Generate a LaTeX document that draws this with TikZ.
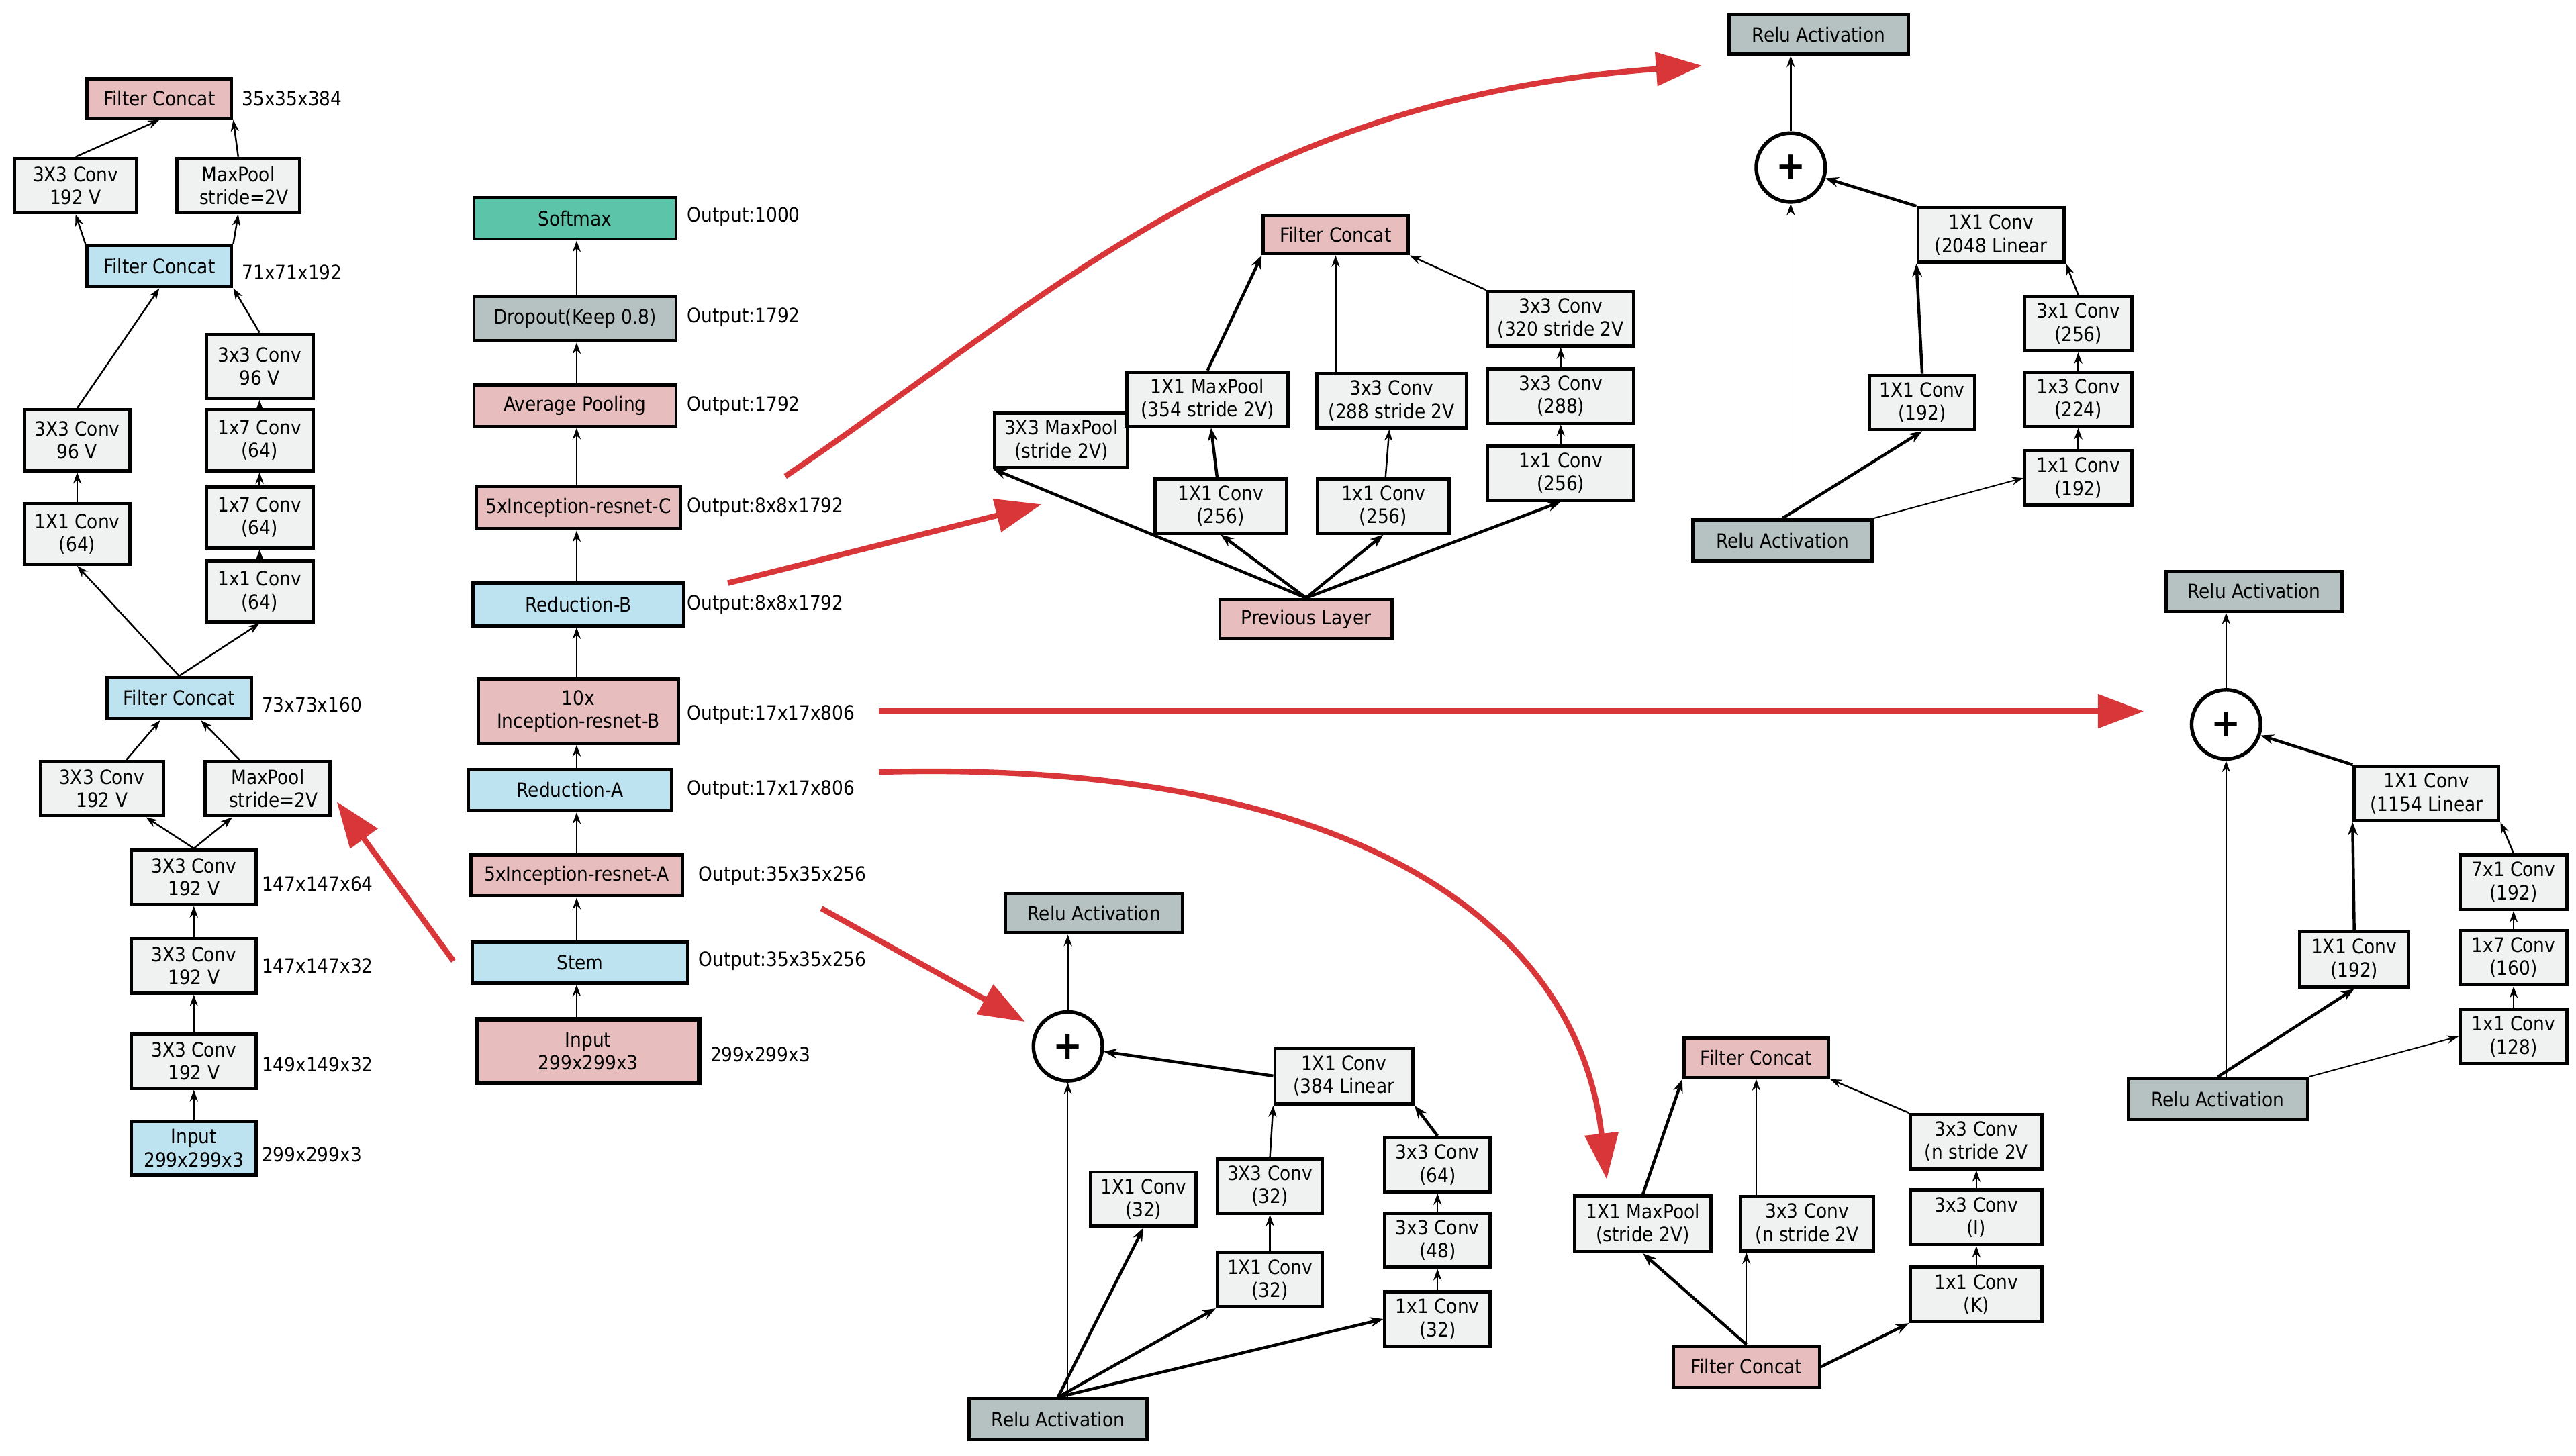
\documentclass[tikz,border=0pt]{standalone}
\usepackage{fontspec}
\setmainfont{DejaVu Sans Condensed}
\usetikzlibrary{arrows.meta}
\definecolor{pk}{HTML}{E8BDBD}
\definecolor{bl}{HTML}{BEE3F0}
\definecolor{lg}{HTML}{F0F1F1}
\definecolor{dg}{HTML}{B6C1C1}
\definecolor{tl}{HTML}{5CC4A8}
\definecolor{rd}{HTML}{D9363A}
\newcommand\bx[7]{\node[box,fill=#6,minimum width=#4*0.5pt,minimum height=#5*0.5pt] (#1) at (#2,#3) {#7};}
\begin{document}
\begin{tikzpicture}[x=0.5pt,y=-0.5pt,
 box/.style={draw=black,line width=1pt,inner sep=0.5pt,align=center,font=\fontsize{6}{7}\selectfont},
 lab/.style={anchor=west,inner sep=0pt,font=\fontsize{6}{7}\selectfont},
 ar/.style={-{Stealth[length=3.5pt,width=2.5pt]},line width=0.5pt},
 thk/.style={-{Stealth[length=4pt,width=3pt]},line width=0.9pt},
 red/.style={draw=rd,line width=1.7pt,-{Triangle[length=14pt,width=10pt]}},
 plus/.style={draw=black,circle,line width=1.1pt,minimum size=21pt,inner sep=0pt,font=\large\bfseries}]
\useasboundingbox (0,0) rectangle (1568,886);
% ---- left stem
\bx{s1}{97}{60}{88}{24}{pk}{Filter Concat}
\node[lab] at (147,60) {35x35x384};
\bx{s2}{46}{113}{74}{33}{lg}{3X3 Conv\\192 V}
\bx{s3}{145}{113}{75}{33}{lg}{MaxPool\\\ \ stride=2V}
\bx{s4}{97}{162}{88}{25}{bl}{Filter Concat}
\node[lab] at (147,166) {71x71x192};
\bx{s5}{158}{223}{65}{39}{lg}{3x3 Conv\\96 V}
\bx{s6}{47}{268}{64}{37}{lg}{3X3 Conv\\96 V}
\bx{s7}{158}{268}{65}{37}{lg}{1x7 Conv\\(64)}
\bx{s8}{158}{315}{65}{37}{lg}{1x7 Conv\\(64)}
\bx{s9}{47}{325}{64}{37}{lg}{1X1 Conv\\(64)}
\bx{s10}{158}{360}{65}{37}{lg}{1x1 Conv\\(64)}
\bx{s11}{109}{425}{88}{25}{bl}{Filter Concat}
\node[lab] at (159,429) {73x73x160};
\bx{s12}{62}{480}{75}{33}{lg}{3X3 Conv\\192 V}
\bx{s13}{163}{480}{76}{33}{lg}{MaxPool\\\ \ stride=2V}
\bx{s14}{118}{534}{76}{33}{lg}{3X3 Conv\\192 V}
\node[lab] at (159,538) {147x147x64};
\bx{s15}{118}{588}{76}{33}{lg}{3X3 Conv\\192 V}
\node[lab] at (159,588) {147x147x32};
\bx{s16}{118}{646}{76}{33}{lg}{3X3 Conv\\192 V}
\node[lab] at (159,648) {149x149x32};
\bx{s17}{118}{699}{76}{33}{bl}{Input\\299x299x3}
\node[lab] at (159,703) {299x299x3};
\draw[ar] (s17)--(s16); \draw[ar] (s16)--(s15); \draw[ar] (s15)--(s14);
\draw[ar] (s14.north)--(s12); \draw[ar] (s14.north)--(s13);
\draw[ar] (s12)--(s11); \draw[ar] (s13)--(s11);
\draw[ar] (s11.north)--(s9.south); \draw[ar] (s11.north)--(s10.south);
\draw[ar] (s9)--(s6); \draw[ar] (s10)--(s8); \draw[ar] (s8)--(s7); \draw[ar] (s7)--(s5);
\draw[ar] (s6.north)--(s4.south); \draw[ar] (s5.north)--(s4.south east);
\draw[ar] (s4.north west)--(s2.south); \draw[ar] (s4.north east)--(s3.south);
\draw[ar] (s2.north)--(s1.south); \draw[ar] (s3.north)--(s1.south east);
% ---- middle column
\bx{m1}{350}{133}{123}{25}{tl}{Softmax}
\node[lab] at (418,132) {Output:1000};
\bx{m2}{350}{194}{123}{27}{dg}{Dropout(Keep 0.8)}
\node[lab] at (418,193) {Output:1792};
\bx{m3}{350}{247}{123}{25}{pk}{Average Pooling}
\node[lab] at (418,247) {Output:1792};
\bx{m4}{352}{309}{124}{26}{pk}{5xInception-resnet-C}
\node[lab] at (418,309) {Output:8x8x1792};
\bx{m5}{352}{368}{128}{26}{bl}{Reduction-B}
\node[lab] at (418,368) {Output:8x8x1792};
\bx{m6}{352}{433}{122}{39}{pk}{10x\\Inception-resnet-B}
\node[lab] at (418,435) {Output:17x17x806};
\bx{m7}{347}{481}{124}{25}{bl}{Reduction-A}
\node[lab] at (418,481) {Output:17x17x806};
\bx{m8}{351}{533}{129}{25}{pk}{5xInception-resnet-A}
\node[lab] at (425,533) {Output:35x35x256};
\bx{m9}{353}{586}{131}{25}{bl}{Stem}
\node[lab] at (425,585) {Output:35x35x256};
\node[box,fill=pk,line width=1.4pt,minimum width=67.5pt,minimum height=19.5pt] (m10) at (358,640) {Input\\299x299x3};
\node[lab] at (432,642) {299x299x3};
\coordinate (mx) at (351,0);
\foreach \a/\b in {m10/m9,m9/m8,m8/m7,m7/m6,m6/m5,m5/m4,m4/m3,m3/m2,m2/m1} \draw[ar] (\a.north-|mx)--(\b.south-|mx);
% ---- red arrows
\coordinate (r1a) at (276,585); \coordinate (r1b) at (205,488);
\draw[red] (r1a)--(r1b);
\coordinate (r2a) at (443,355); \coordinate (r2b) at (634,307);
\draw[red] (r2a)--(r2b);
\coordinate (r3a) at (478,290); \coordinate (r3b) at (1036,40);
\draw[red] (r3a) .. controls (640,180) and (760,60) .. (r3b);
\coordinate (r4a) at (535,433); \coordinate (r4b) at (1305,433);
\draw[red] (r4a)--(r4b);
\coordinate (r5a) at (535,470); \coordinate (r5b) at (978,718);
\draw[red] (r5a) .. controls (820,462) and (960,560) .. (r5b);
\coordinate (r6a) at (500,553); \coordinate (r6b) at (624,622);
\draw[red] (r6a)--(r6b);
% ---- block top middle
\bx{c1}{813}{143}{88}{23}{pk}{Filter Concat}
\bx{c2}{646}{268}{81}{33}{lg}{3X3 MaxPool\\(stride 2V)}
\bx{c3}{735}{243}{98}{33}{lg}{1X1 MaxPool\\(354 stride 2V)}
\bx{c4}{743}{308}{80}{33}{lg}{1X1 Conv\\(256)}
\bx{c5}{847}{244}{91}{33}{lg}{3x3 Conv\\(288 stride 2V}
\bx{c6}{842}{308}{80}{33}{lg}{1x1 Conv\\(256)}
\bx{c7}{950}{194}{89}{33}{lg}{3x3 Conv\\(320 stride 2V}
\bx{c8}{950}{241}{89}{33}{lg}{3x3 Conv\\(288)}
\bx{c9}{950}{288}{89}{33}{lg}{1x1 Conv\\(256)}
\bx{c10}{795}{377}{105}{24}{pk}{Previous Layer}
\draw[thk] (c10.north)--(c2.south west);
\draw[thk] (c10.north)--(c4.south);
\draw[thk] (c10.north)--(c6.south);
\draw[thk] (c10.north)--(c9.south);
\draw[thk] (c4)--(c3); \draw[thk] (c3.north)--(c1.south west);
\draw[ar] (c6)--(c5); \draw[ar] (c5.north west-|c1.south)--(c1.south);
\draw[ar] (c9)--(c8); \draw[ar] (c8)--(c7); \draw[ar] (c7.north west)--(c1.south east);
% ---- block top right
\bx{t1}{1107}{21}{109}{24}{dg}{Relu Activation}
\node[plus] (t2) at (1090,102) {+};
\bx{t3}{1212}{143}{89}{33}{lg}{1X1 Conv\\(2048 Linear}
\bx{t4}{1265}{197}{65}{33}{lg}{3x1 Conv\\(256)}
\bx{t5}{1265}{243}{65}{33}{lg}{1x3 Conv\\(224)}
\bx{t6}{1265}{291}{65}{33}{lg}{1x1 Conv\\(192)}
\bx{t7}{1170}{245}{64}{33}{lg}{1X1 Conv\\(192)}
\bx{t8}{1085}{329}{109}{25}{dg}{Relu Activation}
\draw[ar,line width=0.3pt] (t8.north-|t2)--(t2);
\draw[thk] (t8.north)--(t7.south);
\draw[ar,line width=0.4pt] (t8.north east)--(t6.west);
\draw[ar] (t6)--(t5); \draw[ar] (t5)--(t4); \draw[ar] (t4.north)--(t3.south east);
\draw[thk] (t7.north)--(t3.south west);
\draw[thk] (t3.north west)--(t2);
\draw[ar] (t2)--(t1.south-|t2);
% ---- block right
\bx{b1}{1372}{360}{107}{24}{dg}{Relu Activation}
\node[plus] (b2) at (1355,441) {+};
\bx{b3}{1477}{483}{88}{33}{lg}{1X1 Conv\\(1154 Linear}
\bx{b4}{1530}{537}{65}{33}{lg}{7x1 Conv\\(192)}
\bx{b5}{1530}{583}{65}{33}{lg}{1x7 Conv\\(160)}
\bx{b6}{1530}{631}{65}{33}{lg}{1x1 Conv\\(128)}
\bx{b7}{1433}{584}{66}{34}{lg}{1X1 Conv\\(192)}
\bx{b8}{1350}{669}{109}{25}{dg}{Relu Activation}
\draw[ar,line width=0.3pt] (b8.north-|b2)--(b2);
\draw[thk] (b8.north)--(b7.south);
\draw[ar,line width=0.4pt] (b8.north east)--(b6.west);
\draw[ar] (b6)--(b5); \draw[ar] (b5)--(b4); \draw[ar] (b4.north)--(b3.south east);
\draw[thk] (b7.north)--(b3.south west);
\draw[thk] (b3.north west)--(b2);
\draw[ar] (b2)--(b1.south-|b2);
% ---- block bottom middle
\bx{a1}{666}{556}{108}{24}{dg}{Relu Activation}
\node[plus] (a2) at (650,637) {+};
\bx{a3}{818}{655}{84}{34}{lg}{1X1 Conv\\(384 Linear}
\bx{a4}{875}{709}{64}{33}{lg}{3x3 Conv\\(64)}
\bx{a5}{875}{755}{64}{33}{lg}{3x3 Conv\\(48)}
\bx{a6}{875}{803}{64}{33}{lg}{1x1 Conv\\(32)}
\bx{a7}{773}{722}{64}{33}{lg}{3X3 Conv\\(32)}
\bx{a8}{773}{779}{64}{33}{lg}{1X1 Conv\\(32)}
\bx{a9}{696}{730}{64}{33}{lg}{1X1 Conv\\(32)}
\bx{a10}{644}{864}{108}{25}{dg}{Relu Activation}
\draw[ar,line width=0.3pt] (a10.north-|a2)--(a2);
\draw[thk] (a10.north)--(a9.south);
\draw[thk] (a10.north)--(a8.south west);
\draw[thk] (a10.north)--(a6.west);
\draw[ar] (a6)--(a5); \draw[ar] (a5)--(a4); \draw[thk] (a4.north)--(a3.south east);
\draw[ar] (a8)--(a7); \draw[ar] (a7.north)--(a3.south west);
\draw[thk] (a3.west)--(a2);
\draw[ar] (a2)--(a1.south-|a2);
% ---- block bottom right
\bx{d1}{1069}{644}{88}{24}{pk}{Filter Concat}
\bx{d2}{1000}{745}{83}{34}{lg}{1X1 MaxPool\\(stride 2V)}
\bx{d3}{1100}{745}{81}{33}{lg}{3x3 Conv\\(n stride 2V}
\bx{d4}{1203}{695}{80}{33}{lg}{3x3 Conv\\(n stride 2V}
\bx{d5}{1203}{741}{80}{33}{lg}{3x3 Conv\\(I)}
\bx{d6}{1203}{788}{80}{33}{lg}{1x1 Conv\\(K)}
\bx{d7}{1063}{832}{89}{25}{pk}{Filter Concat}
\draw[thk] (d7.north)--(d2.south);
\draw[ar] (d7.north)--(d3.south west-|d7.north);
\draw[thk] (d7.east)--(d6.south west);
\draw[thk] (d2.north)--(d1.south west);
\draw[ar] (d3.north west-|d1.south)--(d1.south);
\draw[ar] (d6)--(d5); \draw[ar] (d5)--(d4); \draw[ar] (d4.north west)--(d1.south east);
\end{tikzpicture}
\end{document}
